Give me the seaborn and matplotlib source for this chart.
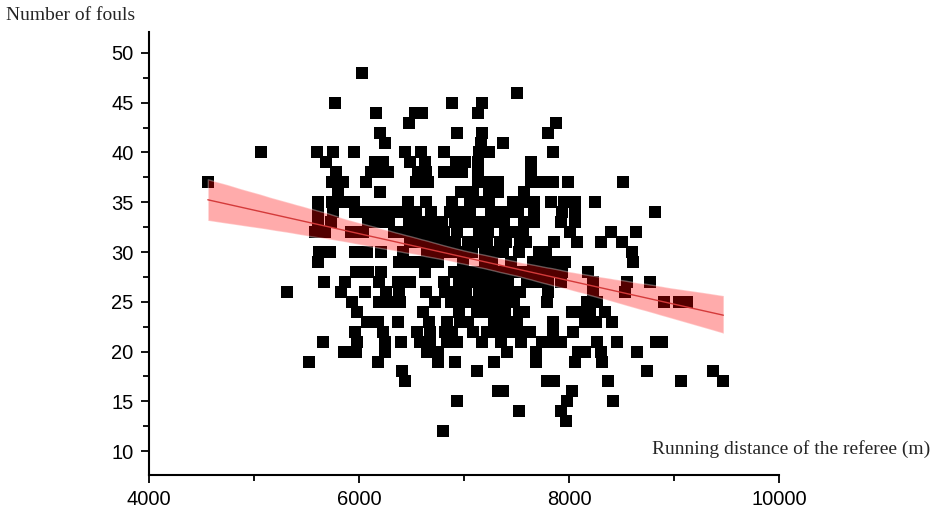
import matplotlib
matplotlib.use("Agg")
import pandas as pd
import matplotlib.pyplot as plt
import seaborn as sns
from matplotlib.ticker import MultipleLocator

# running distance (m) of each match, grouped by the number of fouls
d48 = [6030]
d46 = [7500]
d45 = [5770, 6890, 7170]
d44 = [6160, 6530, 6600, 7130]
d43 = [6480, 7880]
d42 = [6200, 6930, 7170, 7800]
d41 = [6250, 7160, 7370]
d40 = [5070, 5600, 5750, 5950, 6440, 6590, 6810, 7140, 7240, 7850]
d39 = [5690, 6150, 6230, 6490, 6630, 6920, 7010, 7130, 7640]
d38 = [5780, 6110, 6200, 6280, 6560, 6640, 6810, 6900, 6980, 7130, 7640]
d37 = [4560, 5740, 5850, 6070, 6540, 6660, 7130, 7230, 7320, 7640, 7740, 7850,
       7990, 8510]
d36 = [5800, 6200, 6970, 7090, 7240, 7320, 7570]
d35 = [5610, 5740, 5860, 5950, 6470, 6640, 6890, 7060, 7150, 7240, 7470, 7570,
       7670, 7830, 7950, 8060, 8250]
d34 = [5610, 5750, 5960, 6060, 6160, 6260, 6360, 6460, 6540, 6690, 6870, 6960,
       7060, 7260, 7350, 7440, 7510, 7670, 7930, 8060, 8820]
d33 = [5610, 5730, 6090, 6190, 6290, 6480, 6580, 6680, 6790, 6910, 7010, 7110,
       7210, 7310, 7380, 7570, 7670, 7920, 8060]
d32 = [5580, 5680, 5920, 6040, 6330, 6430, 6530, 6630, 6730, 6810, 6930, 7140,
       7230, 7390, 7480, 7560, 8010, 8400, 8640]
d31 = [6490, 6590, 6690, 6800, 6910, 7040, 7130, 7220, 7340, 7400, 7530, 7590,
       7860, 8080, 8300, 8500]
d30 = [5620, 5720, 5960, 6080, 6210, 6420, 6650, 6750, 6820, 6910, 7010, 7080,
       7200, 7300, 7370, 7520, 7710, 7780, 8600]
d29 = [5610, 6380, 6480, 6580, 6660, 6750, 6990, 7200, 7270, 7450, 7660, 7760,
       7870, 7960, 8610]
d28 = [5970, 6090, 6210, 6630, 6900, 7000, 7100, 7200, 7270, 7370, 7470, 7520,
       7630, 7730, 7830, 7930, 8180]
d27 = [5670, 5870, 6190, 6370, 6490, 6810, 6950, 7050, 7150, 7250, 7350, 7420,
       7600, 7700, 7800, 7920, 8230, 8550, 8770]
d26 = [5310, 5830, 6060, 6260, 6380, 6640, 6820, 6920, 7020, 7140, 7240, 7340,
       7440, 7530, 7800, 8230, 8530]
d25 = [5930, 6190, 6290, 6390, 6720, 6880, 6980, 7080, 7180, 7280, 7380, 7480,
       7790, 8170, 8270, 8900, 9050, 9120]
d24 = [5980, 6610, 6950, 7120, 7220, 7320, 7390, 7520, 7570, 8030, 8120, 8200,
       8340]
d23 = [6080, 6180, 6370, 6670, 6840, 6960, 7040, 7290, 7400, 7500, 7850, 8150,
       8260, 8410]
d22 = [5960, 6230, 6550, 6680, 6820, 6890, 7090, 7220, 7320, 7420, 7520, 7630,
       7850, 8040]
d21 = [5660, 5980, 6250, 6400, 6580, 6680, 6840, 6930, 7170, 7350, 7540, 7740,
       7840, 7920, 8270, 8460, 8830, 8890]
d20 = [5860, 5970, 6250, 6650, 6750, 7410, 7690, 8090, 8150, 8300, 8650]
d19 = [5520, 6180, 6750, 6910, 7290, 7690, 8060, 8310]
d18 = [6410, 7120, 8740, 9370]
d17 = [6440, 7790, 7860, 8370, 9070, 9470]
d16 = [7320, 7370, 8030]
d15 = [6930, 7980, 8420]
d14 = [7520, 7920]
d13 = [7970]
d12 = [6800]

by_fouls = {48: d48, 46: d46, 45: d45, 44: d44, 43: d43, 42: d42, 41: d41,
            40: d40, 39: d39, 38: d38, 37: d37, 36: d36, 35: d35, 34: d34,
            33: d33, 32: d32, 31: d31, 30: d30, 29: d29, 28: d28, 27: d27,
            26: d26, 25: d25, 24: d24, 23: d23, 22: d22, 21: d21, 20: d20,
            19: d19, 18: d18, 17: d17, 16: d16, 15: d15, 14: d14, 13: d13,
            12: d12}

df = pd.DataFrame([(d, f) for f, ds in by_fouls.items() for d in ds],
                  columns=["distance", "fouls"])

sns.set_style("ticks")
plt.rcParams["font.family"] = ["Liberation Sans", "DejaVu Sans"]

fig = plt.figure(figsize=(9.35, 5.12), dpi=100)
ax = fig.add_axes([149 / 935, 37 / 512, 630 / 935, 443 / 512])

# black square markers
sns.scatterplot(data=df, x="distance", y="fouls", marker="s", s=64,
                color="black", linewidth=0, ax=ax)

# linear fit with confidence band drawn over the points
sns.regplot(data=df, x="distance", y="fouls", scatter=False, seed=0,
            line_kws={"color": "#d43a3a", "linewidth": 1.0}, ax=ax)
band = ax.collections[-1]
band.set_facecolor("red")
band.set_alpha(0.33)

ax.set_xlim(4000, 10000)
ax.set_ylim(7.6, 52.1)
ax.set_xticks([4000, 6000, 8000, 10000])
ax.xaxis.set_minor_locator(MultipleLocator(1000))
ax.set_yticks(range(10, 51, 5))
ax.yaxis.set_minor_locator(MultipleLocator(2.5))
ax.set_xlabel("")
ax.set_ylabel("")

for side in ["top", "right"]:
    ax.spines[side].set_visible(False)
for side in ["left", "bottom"]:
    ax.spines[side].set_linewidth(1.5)
    ax.spines[side].set_color("black")

ax.tick_params(which="major", length=6, width=1.3, labelsize=14.5, pad=5,
               color="black", labelcolor="black")
ax.tick_params(which="minor", length=4, width=1.3, color="black")

fig.text(6 / 935, 1 - 15 / 512, "Number of fouls", ha="left", va="center",
         family="Liberation Serif", fontsize=14)
fig.text(930 / 935, 1 - 449 / 512, "Running distance of the referee (m)",
         ha="right", va="center", family="Liberation Serif", fontsize=14)

fig.savefig("out.png", dpi=100)
